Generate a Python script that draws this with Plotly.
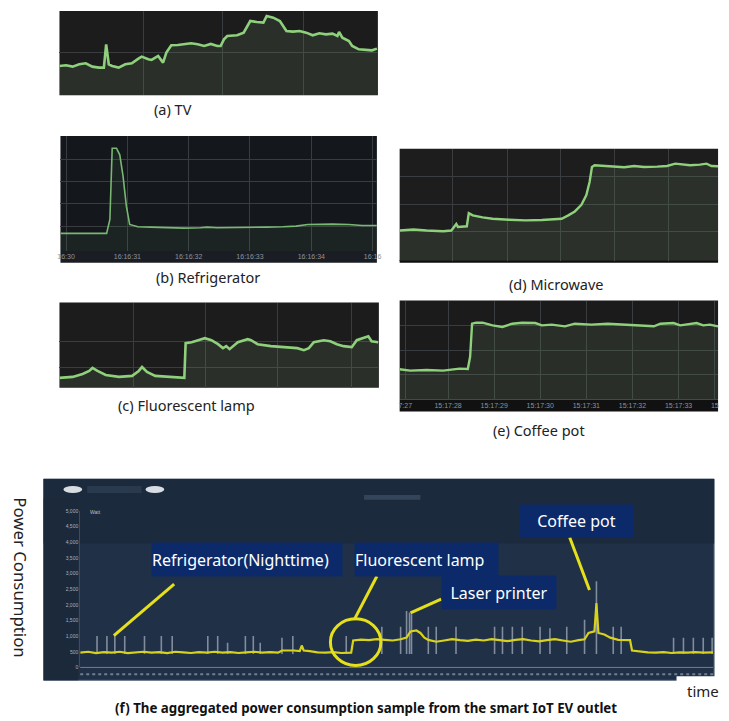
import plotly.graph_objects as go

W, H = 729, 721
OFF = 8  # page margin of the browser body
FW, FH = W - OFF, H - OFF

# ---------------- data ----------------
# (a) TV  (sample index, relative power)
tv_t = [20, 40, 60, 80, 100, 120, 140, 155, 162, 170, 180, 200, 220, 240, 260, 270, 290, 300, 320, 330, 335, 345,
        360, 380, 400, 420, 440, 460, 480, 500, 510, 520, 530, 560, 580, 600, 620, 640, 650, 670, 690, 710, 730,
        750, 770, 790, 810, 830, 850, 865, 870, 880, 900, 910, 930, 950, 970, 985]
tv_p = [88, 90, 86, 93, 96, 86, 83, 83, 153, 93, 88, 83, 93, 96, 110, 116, 108, 106, 118, 103, 98, 128,
        150, 151, 153, 156, 153, 148, 154, 148, 148, 168, 178, 180, 188, 223, 220, 218, 238, 233, 223, 193, 191,
        193, 188, 180, 186, 183, 185, 178, 190, 173, 163, 148, 138, 136, 135, 140]

# (b) Refrigerator
rf_t = [25, 100, 165, 175, 182, 195, 205, 215, 225, 235, 260, 300, 350, 400, 450, 470, 500, 550, 600, 650, 700,
        740, 775, 800, 850, 900, 940, 985]
rf_p = [53, 53, 53, 95, 310, 310, 290, 225, 135, 80, 73, 72, 70, 69, 70, 72, 70, 70, 70, 72, 73,
        75, 80, 81, 81, 80, 77, 77]
rf_ticks = [42, 228, 414, 600, 786, 972]
rf_ticktext = ["16:30", "16:16:31", "16:16:32", "16:16:33", "16:16:34", "16:16"]

# (c) Fluorescent lamp
fl_t = [20, 60, 90, 110, 120, 135, 160, 200, 240, 260, 270, 285, 310, 350, 390, 398, 402, 420, 440, 460, 480,
        500, 515, 525, 535, 545, 560, 590, 600, 620, 640, 660, 700, 740, 760, 775, 790, 820, 840, 860, 880, 905,
        920, 940, 955, 965, 985]
fl_p = [10, 11, 14, 17, 20, 17, 13, 11, 12, 17, 21, 16, 12, 11, 10, 10, 45, 46, 48, 50, 48,
        44, 40, 42, 39, 42, 46, 49, 48, 44, 43, 42, 41, 40, 38, 40, 46, 48, 47, 44, 42, 41,
        48, 50, 52, 47, 46]

# (d) Microwave
mw_t = [18, 60, 100, 150, 175, 185, 190, 195, 215, 222, 228, 240, 270, 300, 350, 400, 450, 480, 510, 530, 550,
        570, 585, 595, 602, 610, 650, 700, 730, 760, 800, 830, 855, 880, 900, 930, 950, 965, 985]
mw_p = [92, 95, 92, 90, 92, 105, 112, 103, 103, 105, 145, 138, 132, 128, 125, 123, 124, 127, 128, 138, 150,
        170, 200, 240, 285, 290, 288, 284, 288, 285, 286, 288, 295, 292, 290, 292, 295, 288, 287]

# (e) Coffee pot
cp_t = [18, 50, 100, 150, 200, 225, 232, 238, 250, 270, 300, 330, 360, 390, 430, 450, 480, 520, 550, 600, 650,
        700, 750, 790, 810, 850, 870, 900, 920, 940, 960, 985]
cp_p = [92, 88, 90, 88, 94, 93, 130, 230, 233, 233, 225, 220, 230, 233, 232, 225, 227, 222, 230, 227, 230,
        227, 225, 222, 230, 232, 225, 230, 232, 225, 227, 222]
cp_ticks = [35, 165, 305, 445, 585, 725, 865, 975]
cp_ticktext = ["7:27", "15:17:28", "15:17:29", "15:17:30", "15:17:31", "15:17:32", "15:17:33", "15"]

# (f) aggregated power (W) over the day
ag_t = [0, 8, 16, 24, 32, 40, 48, 56, 64, 72, 80, 88, 96, 104, 112, 120, 128, 136, 144, 152, 160, 168, 176, 184,
        192, 200, 204, 216, 222, 224, 226, 232, 240, 248, 256, 264, 272, 274, 276, 284, 292, 300, 308, 316, 324,
        330, 334, 340, 344, 348, 352, 360, 368, 376, 384, 392, 400, 408, 416, 424, 432, 440, 448, 456, 464, 472,
        480, 488, 496, 504, 510, 514, 520, 522, 524, 530, 536, 544, 552, 556, 558, 566, 574, 582, 590, 598, 606,
        614, 622, 630, 640]
ag_w = [470, 500, 460, 490, 470, 500, 460, 480, 500, 470, 490, 460, 500, 480, 460, 490, 470, 500, 470, 490, 460,
        480, 500, 470, 490, 470, 540, 540, 520, 700, 540, 520, 480, 470, 490, 460, 480, 470, 860, 890, 870, 900,
        880, 860, 900, 950, 1150, 1180, 1100, 950, 880, 820, 860, 900, 870, 850, 890, 860, 900, 870, 840, 880,
        900, 860, 830, 870, 900, 860, 820, 870, 900, 1100, 1150, 2050, 1100, 1050, 950, 880, 860, 870, 540, 500,
        480, 470, 490, 460, 480, 470, 490, 470, 480]
# short spikes (grey) in the aggregated chart
spike_t = [17, 27, 35, 45, 65, 82, 93, 129, 139, 149, 167, 175, 182, 204, 215, 269, 305, 324, 330, 333, 335,
           352, 360, 380, 419, 427, 437, 447, 465, 475, 492, 510, 522, 539, 547, 600, 610, 620, 630, 639]
spike_top = [1000, 1000, 1010, 1000, 1000, 1000, 1000, 1000, 1000, 790, 1000, 1000, 790, 950, 1000, 1000, 1300,
             1300, 1800, 1750, 1700, 1300, 1300, 1300, 1300, 1300, 1300, 1300, 1300, 1250, 1300, 1520, 2750,
             1300, 1300, 950, 950, 950, 950, 950]
ag_yticks = [0, 500, 1000, 1500, 2000, 2500, 3000, 3500, 4000, 4500, 5000]
ag_yticktext = ["0", "500", "1,000", "1,500", "2,000", "2,500", "3,000", "3,500", "4,000", "4,500", "5,000"]

captions = ["(a) TV", "(b) Refrigerator", "(c) Fluorescent lamp", "(d) Microwave", "(e) Coffee pot"]


# ---------------- helpers (reference pixels -> paper coords) ----------------
def px(p):
    return (p - OFF) / FW


def py(p):
    return 1 - (p - OFF) / FH


def dx(a, b):
    return [px(a), px(b)]


def dy(top, bottom):
    return [py(bottom), py(top)]


fig = go.Figure()
shapes = []
annotations = []

panels = [
    (1, tv_t, tv_p, (57, 379), (8, 93), (20, 988), (0, 253), [275, 517, 762], [128],
     "#1c1c1c", "rgba(120,150,110,0.16)", "#8fd07c", 2.6),
    (2, rf_t, rf_p, (58, 378), (134, 250), (25, 985), (0, 347), rf_ticks[1:5], [75, 143, 210, 275],
     "#14171b", "rgba(90,130,100,0.12)", "#78b873", 1.6),
    (3, fl_t, fl_p, (57, 380), (302, 388), (20, 987), (0, 86), [245, 462, 680, 903], [20, 47],
     "#1c1c1c", "rgba(120,150,110,0.16)", "#8fd07c", 2.6),
    (4, mw_t, mw_p, (401, 723), (147, 260), (18, 985), (0, 340), [180, 345, 508, 670, 833], [88, 170, 255],
     "#1d1d1d", "rgba(120,150,110,0.16)", "#8fd07c", 2.4),
    (5, cp_t, cp_p, (401, 723), (300, 400), (18, 985), (0, 300), [165, 305, 445, 585, 725, 865], [75, 150, 225],
     "#1b1b1b", "rgba(120,150,110,0.16)", "#8fd07c", 2.4),
]

for (i, t, p, xd, yd, xr, yr, gx, gy, bg, fill, lc, lw) in panels:
    sfx = "" if i == 1 else str(i)
    shapes.append(dict(type="rect", xref="paper", yref="paper", x0=px(xd[0]), x1=px(xd[1]),
                       y0=py(yd[1]), y1=py(yd[0]), fillcolor=bg, line=dict(width=0), layer="below"))
    fig.add_trace(go.Scatter(x=t, y=p, xaxis="x" + sfx, yaxis="y" + sfx, mode="lines",
                             line=dict(color=lc, width=lw), fill="tozeroy", fillcolor=fill,
                             hoverinfo="skip", showlegend=False))
    fig.layout["xaxis" + sfx] = dict(domain=dx(*xd), range=list(xr), anchor="y" + sfx, tickvals=gx,
                                     showticklabels=False, ticks="", showgrid=True, gridcolor="#3a3d40",
                                     gridwidth=1, zeroline=False, showline=False, fixedrange=True)
    fig.layout["yaxis" + sfx] = dict(domain=dy(*yd), range=list(yr), anchor="x" + sfx, tickvals=gy,
                                     showticklabels=False, ticks="", showgrid=True, gridcolor="#3a3d40",
                                     gridwidth=1, zeroline=False, showline=False, fixedrange=True)

# time label strips for (b) and (e)
shapes.append(dict(type="rect", xref="paper", yref="paper", x0=px(58), x1=px(378), y0=py(262), y1=py(250),
                   fillcolor="#1a1e24", line=dict(width=0), layer="below"))
shapes.append(dict(type="rect", xref="paper", yref="paper", x0=px(401), x1=px(723), y0=py(262), y1=py(259),
                   fillcolor="#0e0e0e", line=dict(width=0), layer="below"))
shapes.append(dict(type="rect", xref="paper", yref="paper", x0=px(401), x1=px(723), y0=py(412), y1=py(400),
                   fillcolor="#111111", line=dict(width=0), layer="below"))
tick_font = dict(family="Liberation Sans Narrow, Arial Narrow, Liberation Sans", size=7, color="#8d949c")
fig.layout.xaxis2.update(tickvals=rf_ticks, ticktext=rf_ticktext, showticklabels=True, tickfont=tick_font)
fig.layout.xaxis5.update(tickvals=cp_ticks, ticktext=cp_ticktext, showticklabels=True, tickfont=tick_font)

# captions
cap_pos = [(172, 107), (207, 276), (185, 405), (560, 283), (542, 431)]
for txt, (cx, cy) in zip(captions, cap_pos):
    annotations.append(dict(text=txt, xref="paper", yref="paper", x=px(cx), y=py(cy), xanchor="center",
                            yanchor="middle", showarrow=False,
                            font=dict(family="Noto Sans", size=14.5, color="#222222")))

# ---------------- (f) aggregated panel ----------------
shapes.append(dict(type="rect", xref="paper", yref="paper", x0=px(41), x1=px(719), y0=py(683), y1=py(480),
                   fillcolor="#203046", line=dict(width=1, color="#5d6f82"), layer="below"))
shapes.append(dict(type="rect", xref="paper", yref="paper", x0=px(41), x1=px(719), y0=py(545), y1=py(480),
                   fillcolor="#1c2a3d", line=dict(width=0), layer="below"))
shapes.append(dict(type="rect", xref="paper", yref="paper", x0=px(41), x1=px(76), y0=py(683), y1=py(500),
                   fillcolor="#1b293b", line=dict(width=0), layer="below"))
# control pills
shapes.append(dict(type="circle", xref="paper", yref="paper", x0=px(61), x1=px(80), y0=py(494), y1=py(487),
                   fillcolor="#d8dde3", line=dict(width=0), layer="below"))
shapes.append(dict(type="circle", xref="paper", yref="paper", x0=px(144), x1=px(163), y0=py(494), y1=py(487),
                   fillcolor="#d8dde3", line=dict(width=0), layer="below"))
shapes.append(dict(type="rect", xref="paper", yref="paper", x0=px(85), x1=px(140), y0=py(494), y1=py(487),
                   fillcolor="#2a3a4e", line=dict(width=0), layer="below"))
shapes.append(dict(type="rect", xref="paper", yref="paper", x0=px(365), x1=px(422), y0=py(501), y1=py(496),
                   fillcolor="#33455a", line=dict(width=0), layer="below"))
# zero line and time-label texture
shapes.append(dict(type="line", xref="paper", yref="paper", x0=px(78), x1=px(718), y0=py(670), y1=py(670),
                   line=dict(color="#9a6d80", width=1), layer="below"))
shapes.append(dict(type="line", xref="paper", yref="paper", x0=px(78), x1=px(718), y0=py(677), y1=py(677),
                   line=dict(color="#6e7f94", width=2, dash="dot"), layer="below"))
# notch for "time"
shapes.append(dict(type="rect", xref="paper", yref="paper", x0=px(681), x1=px(720), y0=py(684), y1=py(679),
                   fillcolor="white", line=dict(width=0), layer="above"))

# grey spikes
sx, sy = [], []
for t, top in zip(spike_t, spike_top):
    sx += [t, t, None]
    sy += [430, top, None]
fig.add_trace(go.Scatter(x=sx, y=sy, xaxis="x6", yaxis="y6", mode="lines",
                         line=dict(color="rgba(195,202,214,0.6)", width=1.6), hoverinfo="skip", showlegend=False))
fig.add_trace(go.Scatter(x=ag_t, y=ag_w, xaxis="x6", yaxis="y6", mode="lines",
                         line=dict(color="#d9d21c", width=2.2), hoverinfo="skip", showlegend=False))
fig.layout.xaxis6 = dict(domain=dx(78, 718), range=[0, 640], anchor="y6", showticklabels=False, ticks="",
                         showgrid=False, zeroline=False, showline=False, fixedrange=True)
fig.layout.yaxis6 = dict(domain=dy(512, 670), range=[0, 5000], anchor="x6", tickvals=ag_yticks,
                         ticktext=ag_yticktext, showgrid=False, zeroline=False, showline=True,
                         linecolor="#3d4d60", ticks="", tickfont=dict(family="Liberation Sans", size=5,
                                                                      color="#a9b3c0"), fixedrange=True)
annotations.append(dict(text="Watt", xref="paper", yref="paper", x=px(86), y=py(513), xanchor="left",
                        yanchor="middle", showarrow=False, font=dict(family="Liberation Sans", size=5,
                                                                     color="#b8c0cc")))

# callout boxes
boxes = [
    ("Refrigerator(Nighttime)", 150, 348, 544, 577, "left"),
    ("Fluorescent lamp", 355, 506, 544, 577, "left"),
    ("Laser printer", 443, 565, 577, 610, "center"),
    ("Coffee pot", 522, 643, 505, 537, "center"),
]
for txt, x0, x1, y0, y1, al in boxes:
    annotations.append(dict(text=txt, xref="paper", yref="paper", x=px(x0), y=py(y0), xanchor="left",
                            yanchor="top", showarrow=False, width=x1 - x0 - 8, height=y1 - y0, align=al,
                            valign="middle", bgcolor="#0c2a6a", borderpad=0,
                            font=dict(family="Noto Sans", size=16, color="white")))

# yellow pointers
ptrs = [((173, 586), (112, 638)), ((378, 578), (355, 622)), ((443, 601), (412, 615)), ((573, 539), (593, 592))]
for (a, b) in ptrs:
    shapes.append(dict(type="line", xref="paper", yref="paper", x0=px(a[0]), y0=py(a[1]), x1=px(b[0]),
                       y1=py(b[1]), line=dict(color="#e6e01a", width=3), layer="above"))
shapes.append(dict(type="circle", xref="paper", yref="paper", x0=px(331), x1=px(382), y0=py(668), y1=py(621),
                   line=dict(color="#e6e01a", width=3), layer="above"))

annotations.append(dict(text="Power Consumption", xref="paper", yref="paper", x=px(18), y=py(579),
                        xanchor="center", yanchor="middle", textangle=90, showarrow=False,
                        font=dict(family="Noto Sans", size=16.8, color="#222222")))
annotations.append(dict(text="time", xref="paper", yref="paper", x=px(708), y=py(694), xanchor="center",
                        yanchor="middle", showarrow=False,
                        font=dict(family="Noto Sans", size=15, color="#222222")))
annotations.append(dict(text="<b>(f) The aggregated power consumption sample from the smart IoT EV outlet</b>",
                        xref="paper", yref="paper", x=px(367), y=py(711), xanchor="center", yanchor="middle",
                        showarrow=False, font=dict(family="Noto Sans", size=13.3, color="#111111")))

fig.update_layout(width=FW, height=FH, margin=dict(l=0, r=0, t=0, b=0), paper_bgcolor="white",
                  plot_bgcolor="rgba(0,0,0,0)", shapes=shapes, annotations=annotations, showlegend=False)

fig.write_html("out.html")
